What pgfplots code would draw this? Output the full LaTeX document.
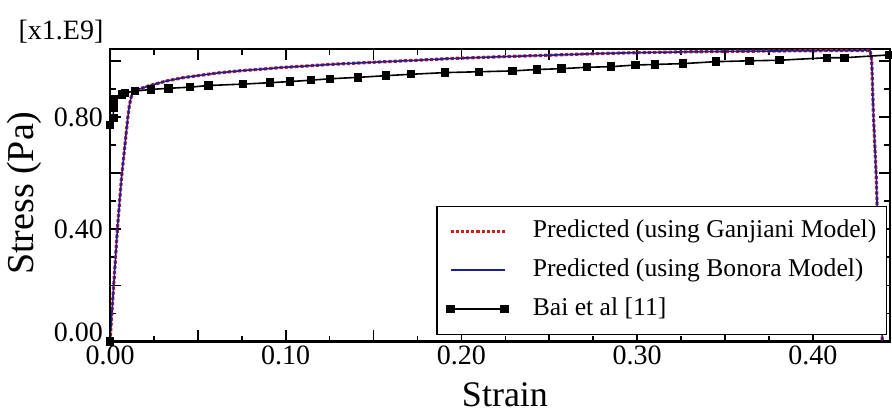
\documentclass[border=0pt]{standalone}
\usepackage{pgfplots}
\pgfplotsset{compat=1.18}
\usepackage{fontspec}
\setmainfont{Liberation Serif}
\definecolor{ganj}{RGB}{205,30,30}
\definecolor{bono}{RGB}{30,30,150}

% Predicted stress-strain response (stress in units of 1e9 Pa)
\pgfplotstableread{
strain stress
0      0
0.002  0.19
0.0042 0.40
0.0065 0.58
0.0085 0.70
0.0100 0.79
0.0110 0.84
0.0120 0.87
0.0133 0.888
0.0160 0.898
0.0228 0.912
0.032  0.928
0.0417 0.940
0.051  0.948
0.0617 0.957
0.075  0.965
0.09   0.972
0.097  0.976
0.108  0.980
0.125  0.987
0.15   0.995
0.175  1.002
0.1935 1.008
0.22   1.014
0.25   1.020
0.279  1.026
0.30   1.029
0.33   1.032
0.36   1.034
0.40   1.036
0.4326 1.037
0.4335 1.00
0.4345 0.80
0.436  0.60
0.437  0.40
0.4385 0.20
0.4395 0.0
}\predicted

% Experimental data, Bai et al [11]
\pgfplotstableread{
strain stress
0      0
0      0.771
0.0019 0.797
0.0019 0.833
0.0019 0.862
0.0067 0.880
0.0085 0.886
0.0142 0.892
0.0233 0.898
0.0332 0.902
0.0455 0.906
0.056  0.912
0.0757 0.917
0.091  0.922
0.1024 0.926
0.1144 0.931
0.1252 0.936
0.1411 0.941
0.157  0.947
0.1713 0.952
0.1907 0.958
0.210  0.961
0.229  0.964
0.243  0.969
0.257  0.972
0.2715 0.977
0.285  0.979
0.299  0.985
0.310  0.987
0.326  0.990
0.345  0.997
0.364  1.000
0.381  1.002
0.408  1.011
0.418  1.011
0.4434 1.021
}\bai

\begin{document}
\begin{tikzpicture}
\path[use as bounding box] (0,0) rectangle (446bp,207bp);
\begin{axis}[
  at={(55bp,36.25bp)}, anchor=south west,
  width=390bp, height=146.1bp, scale only axis,
  xmin=0, xmax=0.4439, ymin=0, ymax=1.041,
  axis line style={line width=1.1bp},
  tick style={line width=0.8bp, black},
  major tick length=5.5bp, minor tick length=2.8bp,
  tick align=inside, tick pos=both,
  xtick={0,0.05,0.1,0.15,0.2,0.25,0.3,0.35,0.4},
  xticklabels={0.00,,0.10,,0.20,,0.30,,0.40},
  minor x tick num=1,
  ytick={0,0.2,0.4,0.6,0.8,1.0},
  yticklabels={\raisebox{9bp}{0.00},,0.40,,0.80,},
  minor y tick num=1,
  tick label style={font=\fontsize{14bp}{16bp}\selectfont},
  xticklabel style={yshift=1.2bp},
  xlabel={Strain},
  xlabel style={at={(axis description cs:0.5064,-0.2229)}, anchor=base,
    font=\fontsize{18bp}{20bp}\selectfont},
  ylabel={Stress (Pa)},
  ylabel style={at={(axis description cs:-0.0987,0.5077)}, anchor=base,
    font=\fontsize{19bp}{21bp}\selectfont},
  legend style={at={(axis description cs:0.9962,0.0222)}, anchor=south east,
    draw=black, line width=0.75bp,
    font=\fontsize{12.8bp}{15bp}\selectfont,
    inner xsep=5bp, inner ysep=6bp, row sep=6.5bp,
    cells={anchor=west},
    nodes={inner sep=0pt, text height=9.5bp, text depth=3.5bp},
    /tikz/every odd column/.append style={column sep=12.5bp}},
  legend image code/.code={\draw[#1, mark repeat=1] plot coordinates {(0bp,0bp) (27bp,0bp)};},
]
\addplot[ganj, line width=1.6bp, densely dotted] table[x=strain, y=stress] {\predicted};
\addlegendentry{Predicted (using Ganjiani Model)}
\addplot[bono, line width=0.8bp] table[x=strain, y=stress] {\predicted};
\addlegendentry{Predicted (using Bonora Model)}
\addplot[black, line width=0.8bp, mark=square*, mark size=1.7bp,
  mark options={solid}] table[x=strain, y=stress] {\bai};
\addlegendentry{Bai et al [11]}
\end{axis}
% scale factor of the stress axis
\node[anchor=base, font=\fontsize{14bp}{16bp}\selectfont, inner sep=0pt]
  at (30.5bp,187bp) {[x1.E9]};
\end{tikzpicture}
\end{document}
